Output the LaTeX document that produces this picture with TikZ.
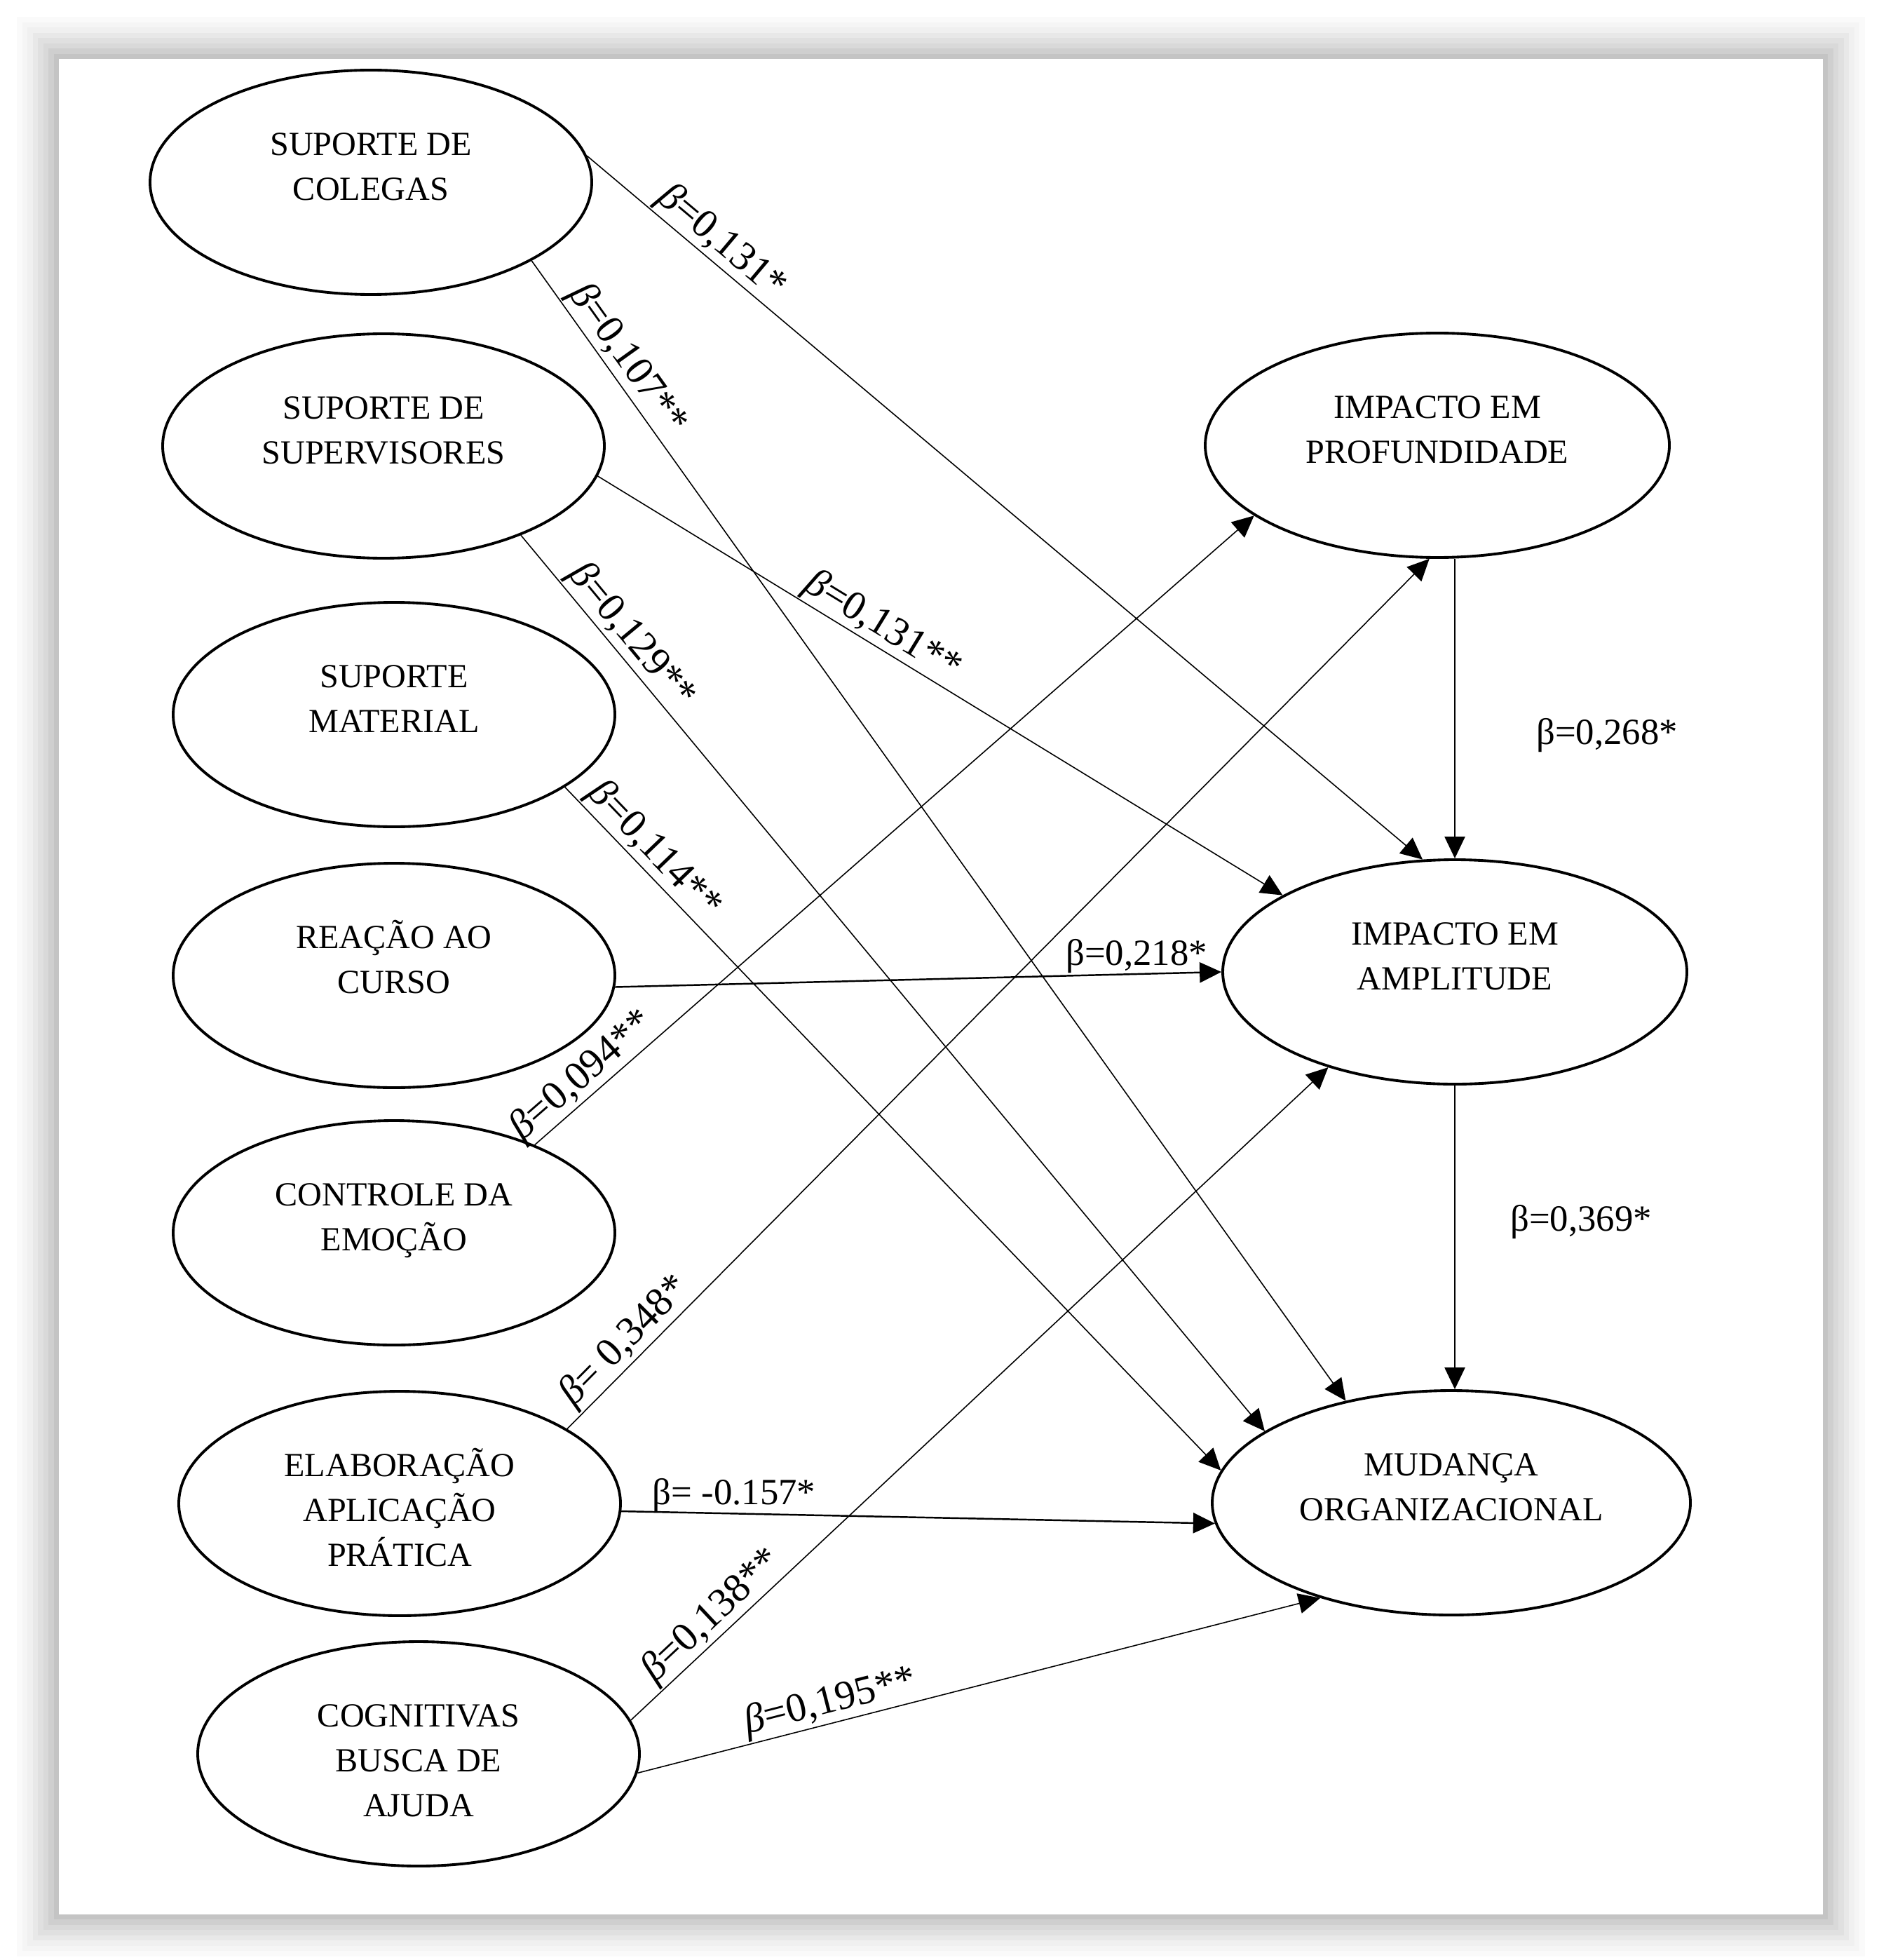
\documentclass[tikz,border=0pt]{standalone}
\usepackage{fontspec}
\setmainfont{Liberation Serif}
\usetikzlibrary{shapes.geometric,arrows.meta,positioning}
\tikzset{var/.style={ellipse,draw,line width=1.1pt,inner sep=0pt,minimum width=6.3cm,minimum height=3.2cm,align=center,font=\fontsize{13.7}{18.2}\selectfont}}
\tikzset{arr/.style={-{Triangle[length=3.1mm,width=2.9mm]},line width=.45pt},fatarr/.style={arr,line width=.7pt}}
\tikzset{cf/.style={sloped,above,inner sep=.5pt,font=\fontsize{16.5}{18}\selectfont},hcf/.style={inner sep=0pt,font=\fontsize{15}{17}\selectfont}}
\newcommand{\vtxt}[3]{\rule{0pt}{19.7pt}#1\strut\\#2\strut\\#3\strut}

\begin{document}
\begin{tikzpicture}
  \useasboundingbox (0,0) rectangle (27,-27.95);
  \coordinate (tl) at (0.84,-0.84);
  \coordinate (br) at (26,-27.3);
  \foreach \d/\g in {0.6/2,0.52/4,0.45/6,0.37/9,0.3/12,0.22/15,0.15/19,0.07/23}
    \fill[black!\g] ([shift={(-\d,\d)}]tl) rectangle ([shift={(\d,-\d)}]br);
  \fill[white] (tl) rectangle (br);
  \node[var] (colegas) at (5.29,-2.6) {\vtxt{SUPORTE DE}{COLEGAS}{}};
  \node[var] (superv) at (5.47,-6.36) {\vtxt{SUPORTE DE}{SUPERVISORES}{}};
  \node[var] (material) at (5.62,-10.19) {\vtxt{SUPORTE}{MATERIAL}{}};
  \node[var] (reacao) at (5.62,-13.91) {\vtxt{REAÇÃO AO}{CURSO}{}};
  \node[var] (controle) at (5.62,-17.58) {\vtxt{CONTROLE DA}{EMOÇÃO}{}};
  \node[var] (elab) at (5.7,-21.44) {\vtxt{ELABORAÇÃO}{APLICAÇÃO}{PRÁTICA}};
  \node[var] (cogn) at (5.97,-25.01) {\vtxt{COGNITIVAS}{BUSCA DE}{AJUDA}};
  \node[var,minimum width=6.62cm] (prof) at (20.5,-6.35) {\vtxt{IMPACTO EM}{PROFUNDIDADE}{}};
  \node[var,minimum width=6.62cm] (ampl) at (20.75,-13.86) {\vtxt{IMPACTO EM}{AMPLITUDE}{}};
  \node[var,minimum width=6.82cm] (mud) at (20.7,-21.43) {\vtxt{MUDANÇA}{ORGANIZACIONAL}{}};
  \draw (colegas.7) edge[arr] node[cf,pos=.145] {\textit{β}=0,131*} (ampl.106)
    (colegas.334) edge[arr] node[cf,pos=.097] {\textit{β}=0,107**} (mud.136);
  \draw (superv.352) edge[arr] node[cf,pos=.4] {\textit{β}=0,131**} (ampl.156)
    (superv.327) edge[arr] node[cf,pos=.127] {\textit{β}=0,129**} (mud.159);
  \draw (material.337) edge[arr] node[cf,pos=.113] {\textit{β}=0,114**} (mud.172);
  \draw (reacao.357) edge[fatarr] node[hcf,above,pos=.86] {β=0,218*} (ampl.180);
  \draw (controle.32) edge[arr] node[cf,pos=.085] {\textit{β}=0,094**} (prof.201);
  \draw (elab.24) edge[arr] node[cf,pos=.084] {\textit{β}= 0,348*} (prof.266)
    (elab.358) edge[fatarr] node[hcf,above,pos=.19] {β= -0.157*} (mud.185);
  \draw (cogn.9) edge[arr] node[cf,pos=.137] {\textit{β}=0,138**} (ampl.217)
    (cogn.355) edge[arr] node[cf,pos=.29] {\textit{β}=0,195**} (mud.216);
  \draw (ampl.north |- prof.south) edge[fatarr] node[hcf,pos=.59,right=1.15cm] {β=0,268*} (ampl.north)
    (ampl.south) edge[fatarr] node[hcf,pos=.45,right=.78cm] {β=0,369*} (ampl.south |- mud.north);
\end{tikzpicture}
\end{document}
